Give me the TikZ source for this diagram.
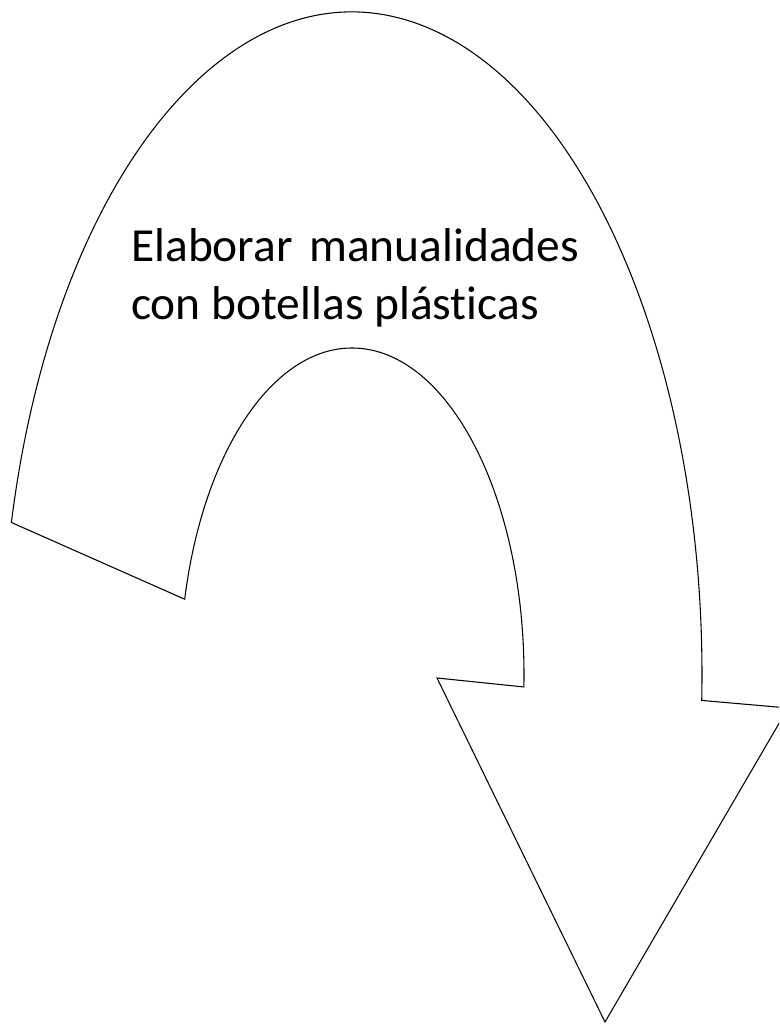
\documentclass[tikz,border=0pt]{standalone}
\usepackage{fontspec}
\setmainfont[Ligatures=NoCommon]{Carlito}

\begin{document}
\begin{tikzpicture}[x=0.75pt,y=0.75pt,every node/.style={align=left,inner sep=0pt,font=\fontsize{35.6}{43.5}\selectfont},arrowshape/.style={draw=black,line width=0.8pt,line join=miter}]
\useasboundingbox (0,0) rectangle (779,1024);
\clip (0,0) rectangle (779,1024);
\coordinate (centre) at (352,349);
\coordinate (lwing) at (437,346);
\coordinate (rwing) at (788,316);
\coordinate (tip) at (605,2);
\path (centre) ++(166.7:350 and 663) coordinate (outstart);
\path (centre) ++(-2.1:172 and 327) coordinate (inend);
\draw[arrowshape] (outstart) arc[start angle=166.7,end angle=-2.2,x radius=350,y radius=663] -- (rwing) -- (tip) -- (lwing) -- (inend) arc[start angle=-2.1,end angle=166.6,x radius=172,y radius=327] -- cycle;
\node[anchor=base west] (label) at (131,704) {Elaborar\hspace{0.12em} manualidades\\con botellas plásticas};
\end{tikzpicture}
\end{document}
